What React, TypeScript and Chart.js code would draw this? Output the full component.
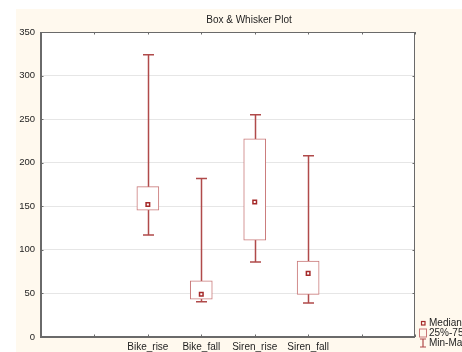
import React, { useEffect, useRef } from "react";
import { Chart, registerables } from "chart.js";

Chart.register(...registerables);

const categories = ["", "", "Bike_rise", "Bike_fall", "Siren_rise", "Siren_fall", "", ""];
const minValues = [null, null, 117, 40.5, 86, 39, null, null];
const q1Values = [null, null, 145.5, 43.5, 111, 49, null, null];
const medianValues = [null, null, 152, 49, 155, 73, null, null];
const q3Values = [null, null, 172.5, 64.5, 227.5, 87, null, null];
const maxValues = [null, null, 324, 182, 255, 208, null, null];
const yTicks = [0, 50, 100, 150, 200, 250, 300, 350];
const legendLabels = ["Median", "25%-75%", "Min-Max"];

const FONT = "'Liberation Sans', Arial, sans-serif";
const WHISKER = "#b04a4a";
const BOXLINE = "#c97878";
const MEDIAN = "#a52a2a";
const AXIS = "#6a6a6a";
const CREAM = "#fff9ee";
const TEXT = "#1e1e1e";

export default function App() {
  const ref = useRef<HTMLCanvasElement | null>(null);

  useEffect(() => {
    const canvas = ref.current!;
    const bgPlugin = {
      id: "bg",
      beforeDraw(chart: any) {
        const { ctx, chartArea: a } = chart;
        ctx.save();
        ctx.fillStyle = "#ffffff";
        ctx.fillRect(0, 0, chart.width, chart.height);
        ctx.fillStyle = CREAM;
        ctx.fillRect(16, 9, chart.width - 16, chart.height - 9);
        ctx.fillStyle = "#ffffff";
        ctx.fillRect(a.left, a.top, a.right - a.left, a.bottom - a.top);
        ctx.restore();
      },
    };
    const whiskerPlugin = {
      id: "whiskers",
      beforeDatasetsDraw(chart: any) {
        const { ctx } = chart;
        const x = chart.scales.x;
        const y = chart.scales.y;
        ctx.save();
        ctx.strokeStyle = WHISKER;
        ctx.lineWidth = 1.5;
        categories.forEach((_, i) => {
          const lo = minValues[i];
          const hi = maxValues[i];
          if (lo == null || hi == null) return;
          const px = Math.round(x.getPixelForValue(i)) + 0.5;
          const ylo = y.getPixelForValue(lo);
          const yhi = y.getPixelForValue(hi);
          ctx.beginPath();
          ctx.moveTo(px, ylo);
          ctx.lineTo(px, yhi);
          ctx.moveTo(px - 5.5, ylo);
          ctx.lineTo(px + 5.5, ylo);
          ctx.moveTo(px - 5.5, yhi);
          ctx.lineTo(px + 5.5, yhi);
          ctx.stroke();
        });
        ctx.restore();
      },
    };
    const framePlugin = {
      id: "frame",
      afterDraw(chart: any) {
        const { ctx, chartArea: a } = chart;
        const x = chart.scales.x;
        const y = chart.scales.y;
        ctx.save();
        ctx.strokeStyle = AXIS;
        ctx.lineWidth = 1;
        ctx.beginPath();
        ctx.moveTo(a.left, a.top + 0.5);
        ctx.lineTo(a.right, a.top + 0.5);
        ctx.moveTo(a.right - 0.5, a.top);
        ctx.lineTo(a.right - 0.5, a.bottom);
        ctx.stroke();
        ctx.lineWidth = 2;
        ctx.beginPath();
        ctx.moveTo(a.left, a.top);
        ctx.lineTo(a.left, a.bottom);
        ctx.lineTo(a.right, a.bottom);
        ctx.stroke();
        ctx.lineWidth = 1;
        ctx.beginPath();
        categories.forEach((_, i) => {
          const px = Math.round(x.getPixelForValue(i)) + 0.5;
          ctx.moveTo(px, a.top);
          ctx.lineTo(px, a.top + 2.5);
          ctx.moveTo(px, a.bottom);
          ctx.lineTo(px, a.bottom - 2.5);
        });
        yTicks.forEach((v) => {
          const py = Math.round(y.getPixelForValue(v)) + 0.5;
          ctx.moveTo(a.right, py);
          ctx.lineTo(a.right - 2.5, py);
          ctx.moveTo(a.left, py);
          ctx.lineTo(a.left + 2.5, py);
        });
        ctx.stroke();

        // title
        ctx.fillStyle = TEXT;
        ctx.font = `10px ${FONT}`;
        ctx.textAlign = "center";
        ctx.textBaseline = "middle";
        ctx.fillText("Box & Whisker Plot", 249, 20);

        // legend
        ctx.textAlign = "left";
        ctx.font = `10px ${FONT}`;
        const lx = 423;
        const rows = [323, 333, 343];
        ctx.strokeStyle = MEDIAN;
        ctx.lineWidth = 1.2;
        ctx.strokeRect(lx - 1.5, rows[0] - 1.5, 3.5, 3.5);
        ctx.strokeStyle = BOXLINE;
        ctx.lineWidth = 1;
        ctx.strokeRect(lx - 3.5, rows[1] - 4, 7, 8);
        ctx.strokeStyle = WHISKER;
        ctx.lineWidth = 1.2;
        ctx.beginPath();
        ctx.moveTo(lx - 3, rows[2] - 4);
        ctx.lineTo(lx + 3, rows[2] - 4);
        ctx.moveTo(lx, rows[2] - 4);
        ctx.lineTo(lx, rows[2] + 4);
        ctx.moveTo(lx - 3, rows[2] + 4);
        ctx.lineTo(lx + 3, rows[2] + 4);
        ctx.stroke();
        ctx.fillStyle = TEXT;
        legendLabels.forEach((t, i) => ctx.fillText(t, 429, rows[i]));
        ctx.restore();
      },
    };

    const chart = new Chart(canvas, {
      type: "bar",
      data: {
        labels: categories,
        datasets: [
          {
            type: "bar",
            label: "25%-75%",
            data: q1Values.map((q, i) => (q == null ? null : [q, q3Values[i] as number])) as any,
            backgroundColor: "#ffffff",
            borderColor: BOXLINE,
            borderWidth: 1,
            borderSkipped: false,
            barThickness: 22,
            grouped: false,
            order: 2,
          } as any,
          {
            type: "line",
            label: "Median",
            data: medianValues as any,
            showLine: false,
            pointStyle: "rect",
            pointRadius: 2.5,
            pointBorderWidth: 1.5,
            pointBorderColor: MEDIAN,
            pointBackgroundColor: "#ffffff",
            order: 1,
          } as any,
        ],
      },
      options: {
        responsive: false,
        animation: false,
        devicePixelRatio: 1,
        layout: { padding: { left: 0, right: 47, top: 32, bottom: 0 } },
        plugins: {
          legend: { display: false },
          title: { display: false },
          tooltip: { enabled: false },
        },
        scales: {
          x: {
            type: "category",
            offset: false,
            grid: { display: false, drawTicks: false },
            border: { display: false },
            ticks: {
              autoSkip: false,
              maxRotation: 0,
              padding: 4,
              color: TEXT,
              font: { family: FONT, size: 10 },
            },
            afterFit(s: any) {
              s.height = 15;
            },
          },
          y: {
            min: 0,
            max: 350,
            grid: { color: "#e6e6e6", drawTicks: false, lineWidth: 1 },
            border: { display: false },
            afterBuildTicks(s: any) {
              s.ticks = yTicks.map((v) => ({ value: v }));
            },
            ticks: {
              padding: 6,
              color: TEXT,
              font: { family: FONT, size: 9.5 },
            },
            afterFit(s: any) {
              s.width = 41;
            },
          },
        },
      },
      plugins: [bgPlugin, whiskerPlugin, framePlugin],
    });
    return () => chart.destroy();
  }, []);

  return (
    <div style={{ position: "absolute", left: 0, top: 0, width: 462, height: 352 }}>
      <canvas ref={ref} width={462} height={352} style={{ width: 462, height: 352, display: "block" }} />
    </div>
  );
}
